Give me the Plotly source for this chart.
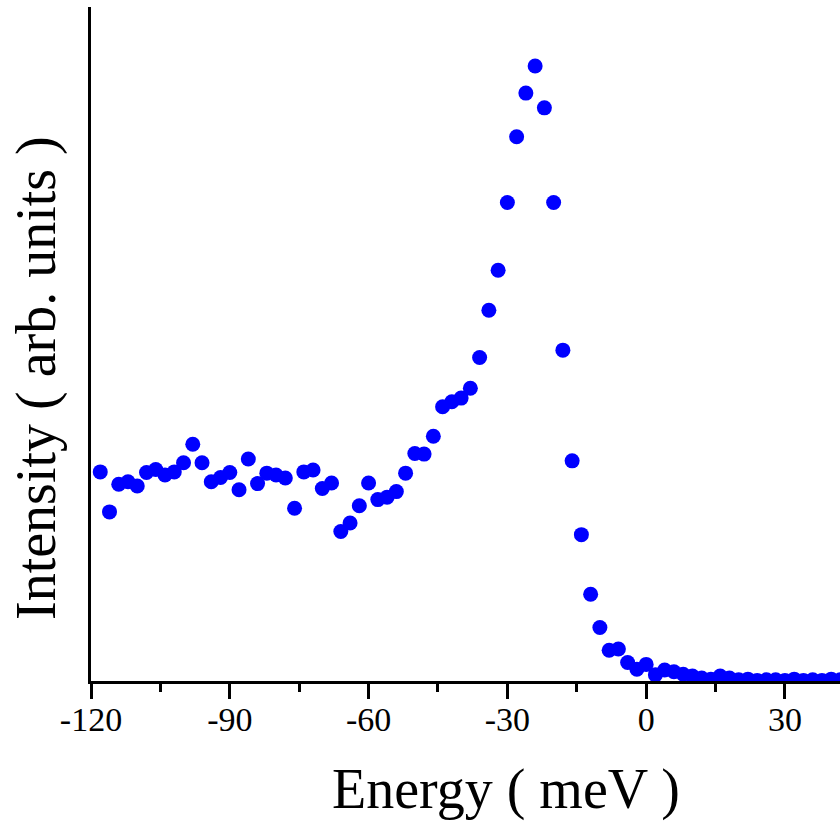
import plotly.graph_objects as go

# Energy transfer (meV), sampled every 2 meV
energy = list(range(-118, 44, 2))

# Measured intensity (arbitrary units, peak normalised to 100)
intensity = [
    34.0, 27.5, 32.0, 32.4, 31.7, 33.9, 34.4, 33.5, 34.0, 35.5,
    38.5, 35.5, 32.4, 33.1, 33.9, 31.1, 36.1, 32.1, 33.8, 33.5,
    33.0, 28.1, 34.0, 34.3, 31.3, 32.2, 24.3, 25.7, 28.5, 32.2,
    29.5, 29.9, 30.8, 33.8, 37.0, 36.9, 39.8, 44.6, 45.4, 46.0,
    47.6, 52.6, 60.3, 66.8, 77.8, 88.5, 95.6, 100.0, 93.2, 77.8,
    53.8, 35.8, 23.8, 14.1, 8.7, 5.0, 5.2, 3.0, 1.9, 2.7,
    1.0, 1.8, 1.5, 1.1, 0.8, 0.5, 0.3, 0.8, 0.5, 0.2,
    0.3, 0.1, 0.2, 0.2, 0.1, 0.3, 0.1, 0.2, 0.1, 0.3,
    0.2,
]

x_ticks = [-120, -90, -60, -30, 0, 30]

FONT = "Liberation Serif"

fig = go.Figure()
fig.add_trace(go.Scatter(
    x=energy,
    y=intensity,
    mode="markers",
    marker=dict(color="#0000FF", size=15, line=dict(width=0)),
    showlegend=False,
))

fig.update_layout(
    width=840,
    height=821,
    margin=dict(l=91, r=0, t=7, b=140),
    paper_bgcolor="white",
    plot_bgcolor="white",
    font=dict(family=FONT, color="black"),
)

fig.update_xaxes(
    range=[-120, 41.9],
    tickvals=x_ticks,
    ticktext=[str(v) for v in x_ticks],
    ticks="outside",
    ticklen=15,
    tickwidth=3,
    tickcolor="black",
    ticklabelstandoff=-9,
    tickfont=dict(family=FONT, size=34, color="black"),
    minor=dict(ticks="outside", ticklen=8, tickwidth=3, tickcolor="black", dtick=15, tick0=-120),
    showline=True,
    linecolor="black",
    linewidth=3,
    showgrid=False,
    zeroline=False,
)

fig.update_yaxes(
    range=[0, 109.6],
    showticklabels=False,
    ticks="",
    showline=True,
    linecolor="black",
    linewidth=3,
    showgrid=False,
    zeroline=False,
)

fig.add_annotation(
    text="Energy ( meV )",
    xref="paper", yref="paper",
    x=0.554, y=-0.1617,
    xanchor="center", yanchor="middle",
    showarrow=False,
    font=dict(family=FONT, size=56, color="black"),
)

fig.add_annotation(
    text="Intensity ( arb. units )",
    xref="paper", yref="paper",
    x=-0.0721, y=0.4496,
    xanchor="center", yanchor="middle",
    textangle=-90,
    showarrow=False,
    font=dict(family=FONT, size=56, color="black"),
)

fig.write_html("out.html")
